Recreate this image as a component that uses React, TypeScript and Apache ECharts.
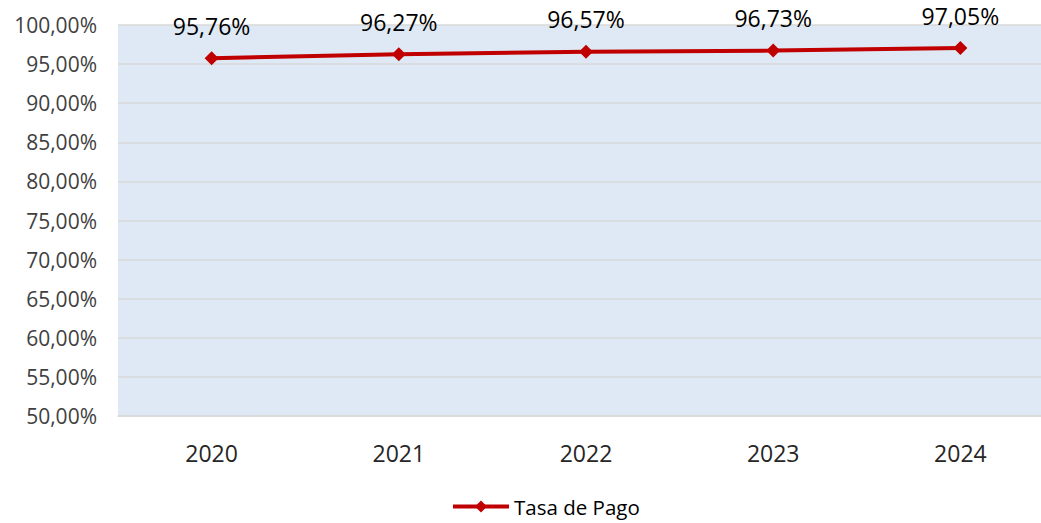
import React, { useEffect, useRef } from "react";
import * as echarts from "echarts";

const categories = ["2020", "2021", "2022", "2023", "2024"];
const tasaDePago = [95.76, 96.27, 96.57, 96.73, 97.05];
const seriesName = "Tasa de Pago";
const yMin = 50;
const yMax = 100;
const yStep = 5;

const fmt = (v: number) => v.toFixed(2).replace(".", ",") + "%";

export default function App() {
  const ref = useRef<HTMLDivElement>(null);
  useEffect(() => {
    document.body.style.margin = "0";
    const chart = echarts.init(ref.current!, null, { renderer: "svg" });
    const font = "'Open Sans', 'Noto Sans', sans-serif";
    chart.setOption({
      animation: false,
      textStyle: { fontFamily: font },
      grid: {
        left: 118,
        right: 0,
        top: 25,
        bottom: 107,
        show: true,
        backgroundColor: "#DEE9F5",
        borderWidth: 0,
      },
      legend: {
        bottom: 1,
        left: 446,
        itemWidth: 56,
        itemHeight: 15,
        itemGap: 10,
        lineStyle: { width: 4 },
        textStyle: { fontSize: 20.5, color: "#000", fontFamily: font },
        data: [seriesName],
      },
      xAxis: {
        type: "category",
        data: categories,
        boundaryGap: true,
        axisLine: { show: true, lineStyle: { color: "#D9D9D9", width: 1.5 } },
        axisTick: { show: false },
        axisLabel: { fontSize: 23, color: "#262626", margin: 25, fontFamily: font },
        splitLine: { show: false },
      },
      yAxis: {
        type: "value",
        min: yMin,
        max: yMax,
        interval: yStep,
        axisLine: { show: false },
        axisTick: { show: false },
        axisLabel: {
          fontSize: 21,
          color: "#404040",
          margin: 21,
          fontFamily: font,
          formatter: (v: number) => fmt(v),
        },
        splitLine: { show: true, lineStyle: { color: "#D9D9D9", width: 1.5 } },
      },
      series: [
        {
          name: seriesName,
          type: "line",
          data: tasaDePago,
          symbol: "diamond",
          symbolSize: 14,
          itemStyle: { color: "#C00000" },
          lineStyle: { color: "#C00000", width: 4 },
          label: {
            show: true,
            position: "top",
            distance: 14,
            fontSize: 23,
            color: "#000",
            fontFamily: font,
            formatter: (p: any) => fmt(p.value),
          },
        },
      ],
    });
    return () => chart.dispose();
  }, []);
  return (
    <div style={{ width: 1041, height: 523, position: "absolute", left: 0, top: 0, overflow: "hidden" }}>
      <div ref={ref} style={{ width: 1054, height: 523 }} />
    </div>
  );
}
